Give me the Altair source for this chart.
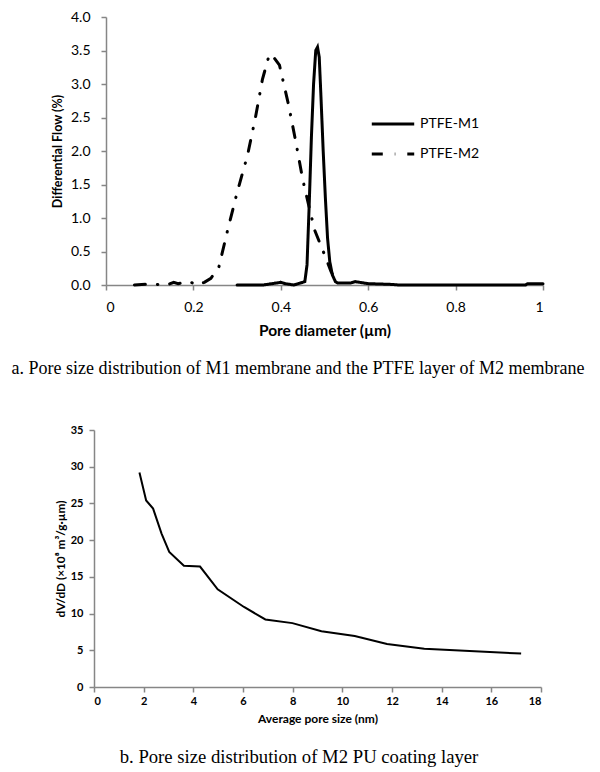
import altair as alt
import pandas as pd

# ---- Panel a: pore size distribution (PTFE layers) ----
m1_x = [0.30, 0.33, 0.36, 0.38, 0.40, 0.41, 0.43, 0.44, 0.45, 0.455, 0.46, 0.465, 0.47, 0.475,
        0.48, 0.484, 0.488, 0.492, 0.497, 0.502, 0.507, 0.512, 0.518, 0.525, 0.53, 0.56, 0.57,
        0.58, 0.60, 0.65, 0.67, 0.96, 0.965, 1.0]
m1_y = [0.0, 0.0, 0.0, 0.02, 0.04, 0.02, 0.0, 0.02, 0.04, 0.05, 0.3, 1.2, 2.2, 3.0,
        3.5, 3.55, 3.4, 2.8, 2.0, 1.3, 0.7, 0.35, 0.15, 0.05, 0.03, 0.03, 0.05,
        0.04, 0.02, 0.01, 0.0, 0.0, 0.02, 0.02]

m2_x = [0.065, 0.09, 0.11, 0.14, 0.155, 0.165, 0.19, 0.21, 0.225, 0.24, 0.258, 0.278, 0.30,
        0.324, 0.342, 0.358, 0.372, 0.378, 0.397, 0.417, 0.434, 0.45, 0.467, 0.478, 0.499,
        0.515, 0.525, 0.53]
m2_y = [0.0, 0.01, 0.01, 0.0, 0.04, 0.02, 0.05, 0.0, 0.04, 0.1, 0.26, 0.81, 1.38,
        1.94, 2.5, 3.07, 3.40, 3.45, 3.28, 2.71, 2.15, 1.58, 1.10, 0.81, 0.47,
        0.2, 0.08, 0.03]

series_names = ["PTFE-M1", "PTFE-M2"]
top_x_ticks = [0, 0.2, 0.4, 0.6, 0.8, 1]
top_y_ticks = [0, 0.5, 1.0, 1.5, 2.0, 2.5, 3.0, 3.5, 4.0]

# ---- Panel b: PU coating layer ----
pu_x = [1.83, 2.1, 2.38, 2.72, 3.03, 3.62, 4.27, 4.98, 6.04, 6.9, 7.99, 9.16, 10.5, 11.8, 13.3, 17.2]
pu_y = [29.2, 25.4, 24.3, 20.9, 18.4, 16.5, 16.4, 13.3, 10.9, 9.2, 8.7, 7.6, 6.95, 5.86, 5.2, 4.55]
bot_x_ticks = list(range(0, 19, 2))
bot_y_ticks = list(range(0, 36, 5))

caption_a = "a. Pore size distribution of M1 membrane and the PTFE layer of M2 membrane"
caption_b = "b. Pore size distribution of M2 PU coating layer"

rows = []
for i, (x, y) in enumerate(zip(m1_x, m1_y)):
    rows.append({"d": x, "f": y, "s": series_names[0], "i": i})
for i, (x, y) in enumerate(zip(m2_x, m2_y)):
    rows.append({"d": x, "f": y, "s": series_names[1], "i": i})
df_top = pd.DataFrame(rows)
df_bot = pd.DataFrame({"p": pu_x, "v": pu_y, "i": range(len(pu_x))})

AX = "#868686"

top = alt.Chart(df_top).mark_line(strokeWidth=3, color="black", strokeCap="round").encode(
    x=alt.X("d:Q", scale=alt.Scale(domain=[0, 1], nice=False),
            axis=alt.Axis(values=top_x_ticks, format="~g", title="Pore diameter (µm)",
                          labelFontSize=14, titleFontSize=15.5, labelPadding=10, titlePadding=9)),
    y=alt.Y("f:Q", scale=alt.Scale(domain=[0, 4], nice=False),
            axis=alt.Axis(values=top_y_ticks, format=".1f", title="Differential Flow (%)",
                          labelFontSize=14, titleFontSize=12.5, labelPadding=11, titlePadding=6)),
    strokeDash=alt.StrokeDash(
        "s:N",
        scale=alt.Scale(domain=series_names, range=[[1, 0], [11, 12, 0.5, 12]]),
        legend=alt.Legend(orient="none", legendX=264, legendY=84, title=None,
                          symbolType="stroke", symbolStrokeWidth=3, symbolSize=1800,
                          symbolStrokeColor="black", labelFontSize=14, labelFont="Lato",
                          labelOffset=4, rowPadding=-8)),
    order="i:Q",
).properties(
    width=437, height=268,
    title=alt.TitleParams(caption_a, orient="bottom", anchor="middle", frame="group",
                          font="Liberation Serif", fontSize=18, fontWeight="normal",
                          dx=-26.5, offset=21, color="black"),
)

bot = alt.Chart(df_bot).mark_line(strokeWidth=2, color="black").encode(
    x=alt.X("p:Q", scale=alt.Scale(domain=[0, 18], range=[-12, 435], nice=False),
            axis=alt.Axis(values=bot_x_ticks, title="Average pore size (nm)",
                          labelFontSize=11, titleFontSize=12, labelFontWeight="bold",
                          labelPadding=3, titlePadding=7)),
    y=alt.Y("v:Q", scale=alt.Scale(domain=[0, 35], nice=False),
            axis=alt.Axis(values=bot_y_ticks, title="dV/dD (×10⁸ m³/g·µm)", offset=12,
                          labelFontSize=11, titleFontSize=11.8, labelFontWeight="bold",
                          labelPadding=6, titlePadding=4)),
    order="i:Q",
).properties(
    width=435, height=257,
    title=alt.TitleParams(caption_b, orient="bottom", anchor="middle", frame="group",
                          font="Liberation Serif", fontSize=18.7, fontWeight="normal",
                          dx=-24.5, offset=24, color="black"),
)

chart = alt.vconcat(top, bot, spacing=145, bounds="flush").properties(
    padding={"left": 3, "top": 2, "right": 0, "bottom": 0}
).configure_view(
    stroke=None
).configure_axis(
    grid=False, domainColor=AX, tickColor=AX, tickSize=5, domainWidth=1.5, tickWidth=1.5,
    labelColor="black", titleColor="black", labelFont="Lato", titleFont="Lato",
    titleFontWeight="bold",
)

chart.save("out.html", embed_options={"renderer": "svg", "actions": False})
